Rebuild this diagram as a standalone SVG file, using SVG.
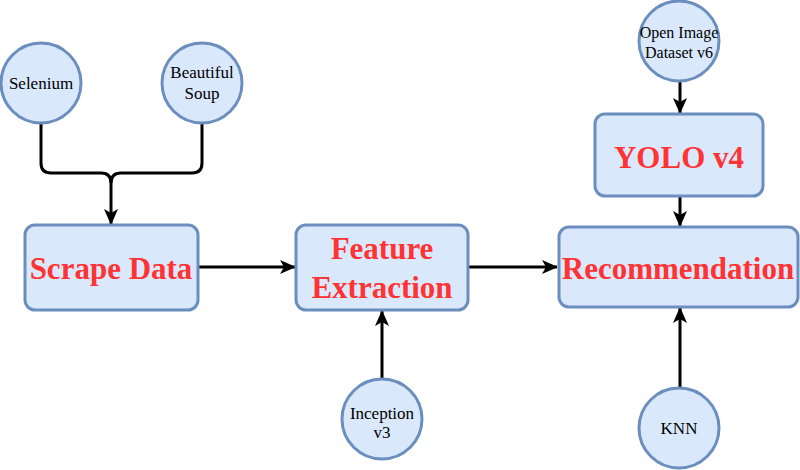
<svg xmlns="http://www.w3.org/2000/svg" width="800" height="470" viewBox="0 0 800 470">
<style>
.box{fill:#dae8fc;stroke:#6c8ebf;stroke-width:3}
.big{font-family:'Liberation Serif','Times New Roman',Times,serif;font-weight:bold;font-size:31px;fill:#ff3333;text-anchor:middle}
.sm{font-family:'Liberation Serif','Times New Roman',Times,serif;font-size:17px;fill:#000;text-anchor:middle}
.ln{fill:none;stroke:#000;stroke-width:3}
</style>
<defs>
<marker id="ah" viewBox="0 0 16 16" refX="15" refY="8" markerWidth="16" markerHeight="16" markerUnits="userSpaceOnUse" orient="auto">
<path d="M0,1 L16,8 L0,15 L4,8 z" fill="#000"/>
</marker>
</defs>
<rect width="800" height="470" fill="#fff"/>
<g id="connectors">
<path class="ln" d="M41,124 V163 Q41,173 51,173 H101 Q111,173 111,183 V224" marker-end="url(#ah)"/>
<path class="ln" d="M202,122 V163 Q202,173 192,173 H121 Q111,173 111,183"/>
<path class="ln" d="M198,267 H295" marker-end="url(#ah)"/>
<path class="ln" d="M468,267 H557" marker-end="url(#ah)"/>
<path class="ln" d="M382,378 V311" marker-end="url(#ah)"/>
<path class="ln" d="M680,82 V113" marker-end="url(#ah)"/>
<path class="ln" d="M680,196 V226" marker-end="url(#ah)"/>
<path class="ln" d="M680,387 V308" marker-end="url(#ah)"/>
</g>
<g id="selenium">
<circle class="box" cx="41" cy="83" r="40"/>
<text class="sm" x="41" y="89">Selenium</text>
</g>
<g id="beautiful-soup">
<circle class="box" cx="202" cy="83" r="40"/>
<text class="sm" x="202" y="78">Beautiful</text>
<text class="sm" x="202" y="99">Soup</text>
</g>
<g id="scrape-data">
<rect class="box" x="25" y="225" width="173" height="85" rx="10"/>
<text class="big" x="111" y="279">Scrape Data</text>
</g>
<g id="feature-extraction">
<rect class="box" x="296" y="225" width="172" height="85" rx="10"/>
<text class="big" x="382" y="259">Feature</text>
<text class="big" x="382" y="298">Extraction</text>
</g>
<g id="recommendation">
<rect class="box" x="559" y="227" width="239" height="80" rx="10"/>
<text class="big" x="678" y="279">Recommendation</text>
</g>
<g id="yolo">
<rect class="box" x="595" y="114" width="168" height="82" rx="10"/>
<text class="big" x="679" y="168">YOLO v4</text>
</g>
<g id="open-image">
<circle class="box" cx="679" cy="41" r="40"/>
<text class="sm" x="679" y="38" style="font-size:16px">Open Image</text>
<text class="sm" x="679" y="58" style="font-size:16px">Dataset v6</text>
</g>
<g id="inception">
<circle class="box" cx="382" cy="419" r="40"/>
<text class="sm" x="382" y="419">Inception</text>
<text class="sm" x="382" y="438">v3</text>
</g>
<g id="knn">
<circle class="box" cx="679" cy="428" r="40"/>
<text class="sm" x="679" y="434">KNN</text>
</g>
</svg>
